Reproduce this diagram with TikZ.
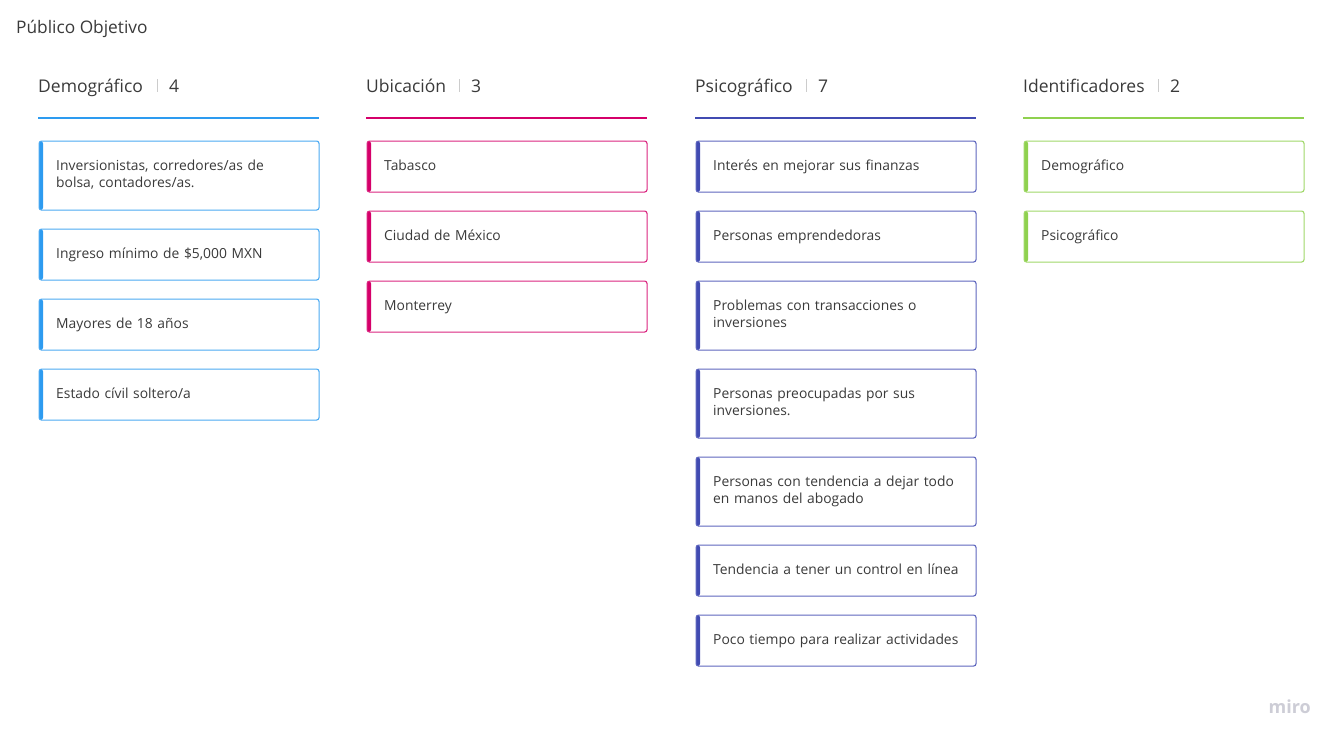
\documentclass[tikz,border=0pt]{standalone}
\usepackage{fontspec}
\setmainfont{Open Sans}
\definecolor{cdem}{HTML}{2D9BF0}
\definecolor{cubi}{HTML}{D5006A}
\definecolor{cpsi}{HTML}{414BB2}
\definecolor{cide}{HTML}{8FD14F}
\definecolor{ctxt}{HTML}{3A3A3A}
\definecolor{chead}{HTML}{3A3A3A}
\definecolor{csep}{HTML}{CCCCCC}
\definecolor{cmiro}{HTML}{CDCDD6}
\tikzset{
  x=1pt,y=-1pt,
  card/.style={draw=#1!85!white, line width=1.1pt, rounded corners=2.5pt, anchor=north west,
    minimum width=280pt, inner sep=0pt,
    path picture={\fill[#1] (path picture bounding box.north west) rectangle ([xshift=4pt]path picture bounding box.south west);}},
  ctext/.style={anchor=base west, inner sep=0pt, text width=250pt, align=left,
    font=\fontsize{13.85}{17.5}\selectfont, text=ctxt},
  hdr/.style={anchor=base west, inner sep=0pt, font=\fontsize{17.5}{20}\selectfont, text=chead},
  rule/.style={line width=1.6pt, draw=#1},
  sepbar/.style={line width=0.6pt, draw=csep}
}
\begin{document}
\begin{tikzpicture}
\useasboundingbox[fill=white] (0,0) rectangle (1341,745);
\node[anchor=base west, inner sep=0pt, font=\fontsize{17.3}{20}\selectfont, text=chead] (title) at (16,33) {Público Objetivo};

% Column 1
\node[hdr] (h1) at (38,92) {Demográfico};
\node[hdr] (n1) at (169,92) {4};
\coordinate (s1a) at (157,79); \coordinate (s1b) at (157,92);
\draw[sepbar] (s1a) -- (s1b);
\coordinate (r1a) at (38,118); \coordinate (r1b) at (319,118);
\draw[rule=cdem] (r1a) -- (r1b);
\node[card=cdem, minimum height=69pt] (d1) at (38.5,140.5) {};
\node[ctext] (d1t) at ([shift={(17.5,29.5)}]d1.north west) {Inversionistas, corredores/as de\\bolsa, contadores/as.};
\node[card=cdem, minimum height=51pt] (d2) at (38.5,228.5) {};
\node[ctext] (d2t) at ([shift={(17.5,29.5)}]d2.north west) {Ingreso mínimo de \$5,000 MXN};
\node[card=cdem, minimum height=51pt] (d3) at (38.5,298.5) {};
\node[ctext] (d3t) at ([shift={(17.5,29.5)}]d3.north west) {Mayores de 18 años};
\node[card=cdem, minimum height=51pt] (d4) at (38.5,368.5) {};
\node[ctext] (d4t) at ([shift={(17.5,29.5)}]d4.north west) {Estado cívil soltero/a};

% Column 2
\node[hdr] (h2) at (366,92) {Ubicación};
\node[hdr] (n2) at (471,92) {3};
\coordinate (s2a) at (459,79); \coordinate (s2b) at (459,92);
\draw[sepbar] (s2a) -- (s2b);
\coordinate (r2a) at (366,118); \coordinate (r2b) at (647,118);
\draw[rule=cubi] (r2a) -- (r2b);
\node[card=cubi, minimum height=51pt] (u1) at (366.5,140.5) {};
\node[ctext] (u1t) at ([shift={(17.5,29.5)}]u1.north west) {Tabasco};
\node[card=cubi, minimum height=51pt] (u2) at (366.5,210.5) {};
\node[ctext] (u2t) at ([shift={(17.5,29.5)}]u2.north west) {Ciudad de México};
\node[card=cubi, minimum height=51pt] (u3) at (366.5,280.5) {};
\node[ctext] (u3t) at ([shift={(17.5,29.5)}]u3.north west) {Monterrey};

% Column 3
\node[hdr] (h3) at (695,92) {Psicográfico};
\node[hdr] (n3) at (818,92) {7};
\coordinate (s3a) at (806,79); \coordinate (s3b) at (806,92);
\draw[sepbar] (s3a) -- (s3b);
\coordinate (r3a) at (695,118); \coordinate (r3b) at (976,118);
\draw[rule=cpsi] (r3a) -- (r3b);
\node[card=cpsi, minimum height=51pt] (p1) at (695.5,140.5) {};
\node[ctext] (p1t) at ([shift={(17.5,29.5)}]p1.north west) {Interés en mejorar sus finanzas};
\node[card=cpsi, minimum height=51pt] (p2) at (695.5,210.5) {};
\node[ctext] (p2t) at ([shift={(17.5,29.5)}]p2.north west) {Personas emprendedoras};
\node[card=cpsi, minimum height=69pt] (p3) at (695.5,280.5) {};
\node[ctext] (p3t) at ([shift={(17.5,29.5)}]p3.north west) {Problemas con transacciones o\\inversiones};
\node[card=cpsi, minimum height=69pt] (p4) at (695.5,368.5) {};
\node[ctext] (p4t) at ([shift={(17.5,29.5)}]p4.north west) {Personas preocupadas por sus\\inversiones.};
\node[card=cpsi, minimum height=69pt] (p5) at (695.5,456.5) {};
\node[ctext] (p5t) at ([shift={(17.5,29.5)}]p5.north west) {Personas con tendencia a dejar todo\\en manos del abogado};
\node[card=cpsi, minimum height=51pt] (p6) at (695.5,544.5) {};
\node[ctext] (p6t) at ([shift={(17.5,29.5)}]p6.north west) {Tendencia a tener un control en línea};
\node[card=cpsi, minimum height=51pt] (p7) at (695.5,614.5) {};
\node[ctext] (p7t) at ([shift={(17.5,29.5)}]p7.north west) {Poco tiempo para realizar actividades};

% Column 4
\node[hdr] (h4) at (1023,92) {Identificadores};
\node[hdr] (n4) at (1170,92) {2};
\coordinate (s4a) at (1158,79); \coordinate (s4b) at (1158,92);
\draw[sepbar] (s4a) -- (s4b);
\coordinate (r4a) at (1023,118); \coordinate (r4b) at (1304,118);
\draw[rule=cide] (r4a) -- (r4b);
\node[card=cide, minimum height=51pt] (i1) at (1023.5,140.5) {};
\node[ctext] (i1t) at ([shift={(17.5,29.5)}]i1.north west) {Demográfico};
\node[card=cide, minimum height=51pt] (i2) at (1023.5,210.5) {};
\node[ctext] (i2t) at ([shift={(17.5,29.5)}]i2.north west) {Psicográfico};

\node[anchor=base east, inner sep=0pt, font=\fontsize{18}{18}\bfseries\selectfont, text=cmiro] (miro) at (1311,713) {miro};
\end{tikzpicture}
\end{document}
